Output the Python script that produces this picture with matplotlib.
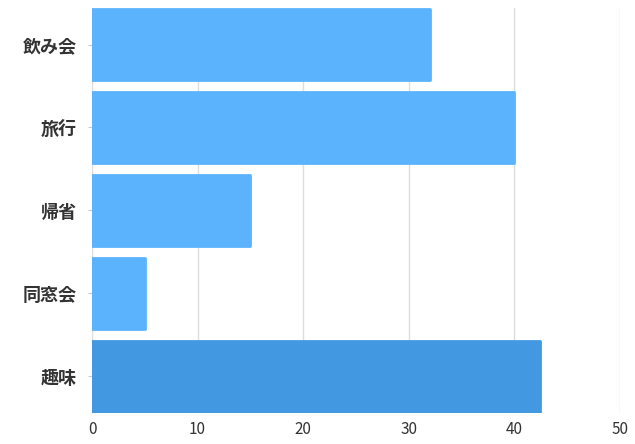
import matplotlib.pyplot as plt

plt.rcParams['font.family'] = ['Noto Sans CJK JP', 'DejaVu Sans']

categories = ["飲み会", "旅行", "帰省", "同窓会", "趣味"]
values = [32, 40, 15, 5, 42.4]
colors = ["#5cb3fd", "#5cb3fd", "#5cb3fd", "#5cb3fd", "#4299e1"]

fig = plt.figure(figsize=(6.35, 4.44), dpi=100)
ax = fig.add_axes([0.145, 0.07, 0.831, 0.912])

pos = list(range(len(categories)))[::-1]
ax.barh(pos, values, height=0.85, color=colors, edgecolor=colors,
        linewidth=2, joinstyle="round", zorder=3)

ax.set_xlim(0, 50)
ax.set_ylim(-0.44, 4.44)
ax.set_xticks([0, 10, 20, 30, 40, 50])
ax.set_yticks(pos)
ax.set_yticklabels(categories, fontsize=13, fontweight="bold", color="#333333")
ax.tick_params(axis="x", labelsize=11, colors="#333333", length=0, pad=6)
ax.tick_params(axis="y", length=3, color="#cccccc", pad=8)
ax.grid(axis="x", color="#dddddd", linewidth=1, zorder=0)
for s in ax.spines.values():
    s.set_visible(False)

fig.savefig("out.png", dpi=100)
